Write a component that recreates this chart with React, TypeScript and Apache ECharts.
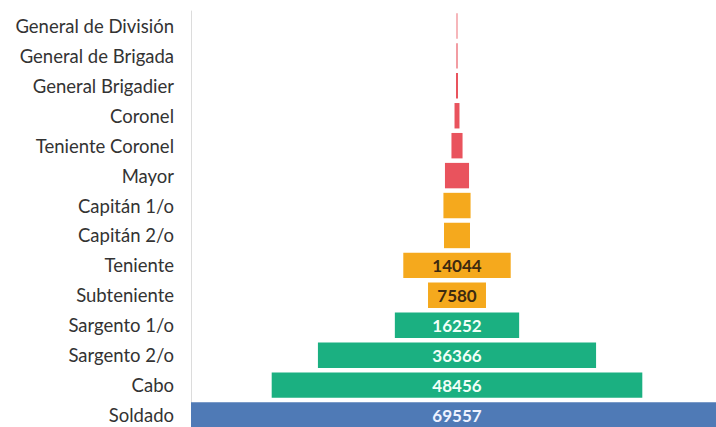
import React, { useEffect, useRef } from "react";
import * as echarts from "echarts";

// Ranks, top of the pyramid first
const ranks = [
  "General de División",
  "General de Brigada",
  "General Brigadier",
  "Coronel",
  "Teniente Coronel",
  "Mayor",
  "Capitán 1/o",
  "Capitán 2/o",
  "Teniente",
  "Subteniente",
  "Sargento 1/o",
  "Sargento 2/o",
  "Cabo",
  "Soldado",
];

// Personnel per rank
const personnel = [110, 150, 260, 650, 1450, 3150, 3550, 3400, 14044, 7580, 16252, 36366, 48456, 69557];

// Rank group of each bar: 0 jefes/generales, 1 oficiales, 2 tropa/clases, 3 soldados
const rankGroup = [0, 0, 0, 0, 0, 0, 1, 1, 1, 1, 2, 2, 2, 3];

// Only these ranks carry a value label
const labelled = [false, false, false, false, false, false, false, false, true, true, true, true, true, true];

const groupColors = ["#e9535d", "#f5a91d", "#1bb081", "#4f7ab6"];
const groupLabelColors = ["#ffffff", "#3d2a10", "#f2fff8", "#eef2ff"];

export default function App() {
  const ref = useRef<HTMLDivElement>(null);

  useEffect(() => {
    if (!ref.current) return;
    document.body.style.margin = "0";
    document.body.style.overflow = "hidden";
    const chart = echarts.init(ref.current, null, { renderer: "svg" });
    const maxValue = Math.max(...personnel);

    chart.setOption({
      animation: false,
      backgroundColor: "#ffffff",
      grid: {
        left: 191,
        top: 11,
        right: -7,
        bottom: -3,
        containLabel: false,
        outerBoundsMode: "none",
      },
      xAxis: {
        type: "value",
        min: 0,
        max: maxValue,
        show: false,
      },
      yAxis: {
        type: "category",
        inverse: true,
        data: ranks,
        axisLine: { show: true, lineStyle: { color: "#dcdcdc", width: 1 } },
        axisTick: { show: false },
        axisLabel: {
          color: "#333333",
          fontFamily: "Lato",
          fontSize: 18.5,
          margin: 17,
        },
      },
      series: [
        {
          type: "bar",
          stack: "pyramid",
          silent: true,
          itemStyle: { color: "transparent" },
          data: personnel.map((v) => (maxValue - v) / 2),
          barCategoryGap: "15%",
        },
        {
          type: "bar",
          stack: "pyramid",
          barCategoryGap: "15%",
          data: personnel.map((v, i) => ({
            value: v,
            itemStyle: { color: groupColors[rankGroup[i]] },
            label: {
              show: labelled[i],
              position: "inside",
              formatter: String(v),
              color: groupLabelColors[rankGroup[i]],
              fontFamily: "Lato",
              fontSize: 17,
              fontWeight: "bold",
            },
          })),
        },
      ],
    });

    return () => chart.dispose();
  }, []);

  return (
    <div
      ref={ref}
      style={{ position: "fixed", left: 0, top: 0, width: 716, height: 427, overflow: "hidden" }}
    />
  );
}
